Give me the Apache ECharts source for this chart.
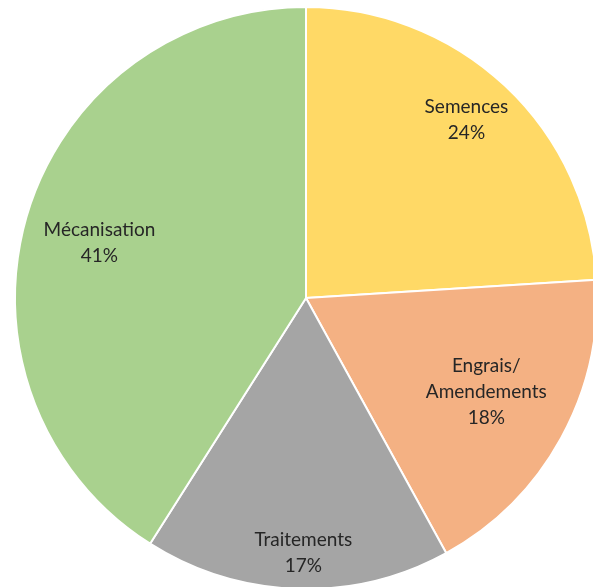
<!DOCTYPE html>
<html>
<head>
<meta charset="utf-8">
<script src="https://cdn.jsdelivr.net/npm/echarts@6/dist/echarts.min.js"></script>
<style>
  html, body { margin: 0; padding: 0; background: #fff; }
  #chart { width: 593px; height: 587px; }
</style>
</head>
<body>
<div id="chart"></div>
<script>
// Répartition des charges (%)
const categories = ['Semences', 'Engrais/\nAmendements', 'Traitements', 'Mécanisation'];
const values = [24, 18, 17, 41];
const colors = ['#FFD966', '#F4B183', '#A5A5A5', '#A9D18E'];
// how far out each label sits, relative to the default mid-radius spot
const labelReach = [1.615, 1.37, 1.718, 1.44];
// small counter-clockwise nudge applied to every label (degrees)
const labelTurn = -1.2;

const CX = 306, CY = 298, R = 291;

const chart = echarts.init(document.getElementById('chart'), null, { renderer: 'canvas' });

chart.setOption({
  animation: false,
  backgroundColor: '#ffffff',
  series: [{
    type: 'pie',
    center: [CX, CY],
    radius: [0, R],
    startAngle: 90,
    clockwise: true,
    avoidLabelOverlap: false,
    itemStyle: { borderColor: '#ffffff', borderWidth: 2 },
    label: {
      show: true,
      position: 'inside',
      formatter: p => p.name + '\n' + p.value + '%',
      fontFamily: 'Lato, "Open Sans", sans-serif',
      fontSize: 19,
      lineHeight: 26,
      color: '#262626',
      align: 'center'
    },
    labelLayout: function (p) {
      const r = p.labelRect;
      const f = labelReach[p.dataIndex];
      const vx = (r.x + r.width / 2 - CX) * f;
      const vy = (r.y + r.height / 2 - CY) * f;
      const t = labelTurn * Math.PI / 180;
      return {
        x: CX + vx * Math.cos(t) - vy * Math.sin(t),
        y: CY + vx * Math.sin(t) + vy * Math.cos(t),
        align: 'center',
        verticalAlign: 'middle'
      };
    },
    labelLine: { show: false },
    emphasis: { disabled: true },
    data: categories.map((c, i) => ({
      name: c,
      value: values[i],
      itemStyle: { color: colors[i] }
    }))
  }]
});
</script>
</body>
</html>
